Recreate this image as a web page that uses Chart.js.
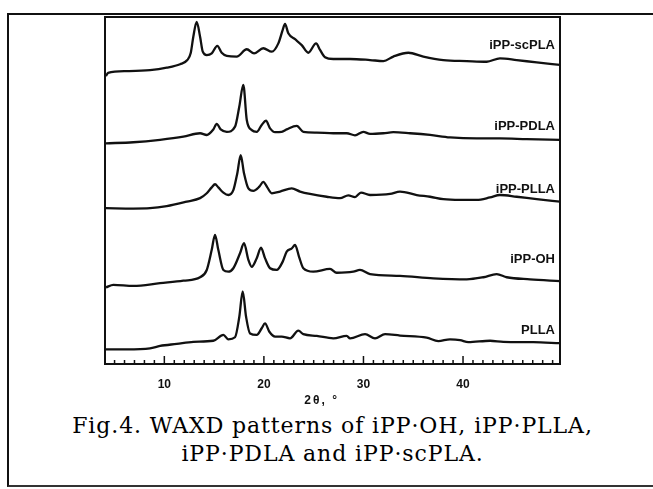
<!DOCTYPE html>
<html>
<head>
<meta charset="utf-8">
<title>WAXD patterns</title>
<script src="https://cdn.jsdelivr.net/npm/chart.js@4.4.0/dist/chart.umd.min.js"></script>
<style>
  html, body { margin: 0; padding: 0; background: #fff; overflow: hidden; }
  #frame { position: absolute; left: 7px; top: 13px; width: 700px; height: 470px;
           border-left: 2px solid #111; border-top: 2px solid #111; border-bottom: 2px solid #333; }
  #wrap { position: absolute; left: 0; top: 0; width: 653px; height: 410px; }
  #caption { position: absolute; left: 6px; top: 412px; width: 653px; text-align: center;
             font-family: "DejaVu Serif", serif; font-size: 22px; letter-spacing: 0.9px;
             line-height: 28px; color: #000; }
</style>
</head>
<body>
<div id="frame"></div>
<div id="wrap"><canvas id="waxdChart" width="653" height="410"></canvas></div>
<div id="caption">Fig.4. WAXD patterns of iPP·OH, iPP·PLLA,<br>iPP·PDLA and iPP·scPLA.</div>
<script>
// 2theta (deg) and stacked intensity (a.u.), top curve first
const scplaX = [4.14, 4.35, 6.22, 8.56, 10.24, 11.58, 12.31, 12.65, 12.91, 13.25, 13.59, 13.86, 14.26, 14.76, 15.32, 15.76, 16.27, 17.27, 18.28, 19.01, 19.94, 20.79, 21.45, 21.89, 22.12, 22.45, 23.13, 23.8, 24.46, 25.24, 25.64, 26.14, 26.97, 28.65, 30.66, 32.0, 33.0, 34.51, 36.01, 38.02, 40.37, 42.38, 43.71, 45.39, 47.4, 49.74];
const scplaY = [83.0, 83.9, 84.4, 84.7, 85.4, 86.4, 87.6, 89.6, 94.3, 98.6, 94.3, 90.0, 89.0, 89.5, 91.7, 89.7, 88.8, 88.6, 90.7, 89.5, 91.0, 90.0, 92.4, 96.3, 98.0, 95.3, 93.6, 91.9, 89.7, 92.4, 90.5, 88.4, 87.9, 87.9, 87.6, 87.3, 88.6, 89.7, 88.6, 87.6, 87.3, 87.1, 88.1, 87.6, 86.9, 86.2];

const pdlaX = [4.14, 6.89, 9.57, 11.91, 13.59, 14.26, 14.92, 15.26, 15.66, 16.27, 17.1, 17.53, 17.93, 18.28, 18.78, 19.28, 19.78, 20.21, 20.62, 21.12, 21.79, 22.29, 23.3, 23.96, 25.31, 26.97, 28.32, 29.15, 29.99, 30.66, 32.0, 33.0, 34.68, 36.69, 38.69, 41.37, 43.71, 46.4, 49.74];
const pdlaY = [63.6, 63.9, 64.6, 65.5, 66.5, 66.0, 67.6, 69.2, 67.6, 66.9, 68.4, 74.2, 80.4, 70.3, 67.4, 66.9, 68.9, 70.1, 67.9, 66.8, 66.9, 67.6, 68.6, 66.9, 66.7, 66.5, 66.5, 65.9, 66.9, 66.3, 66.5, 66.8, 66.5, 66.0, 65.3, 65.0, 65.0, 64.8, 64.6];

const pllaBlendX = [4.14, 6.89, 8.56, 10.24, 12.25, 13.59, 14.26, 14.76, 15.09, 15.42, 15.93, 16.43, 16.93, 17.33, 17.67, 18.0, 18.44, 18.94, 19.54, 19.94, 20.34, 20.79, 21.62, 22.8, 23.63, 24.63, 26.31, 27.65, 28.48, 29.15, 29.75, 30.66, 32.67, 33.67, 35.35, 36.69, 38.02, 39.7, 41.37, 42.71, 43.71, 45.39, 47.4, 49.74];
const pllaBlendY = [44.9, 44.8, 44.9, 45.5, 46.8, 47.8, 49.2, 50.9, 51.8, 50.9, 49.4, 48.7, 50.1, 55.0, 60.2, 55.0, 50.6, 49.9, 51.1, 52.5, 50.9, 49.2, 49.7, 50.6, 49.7, 49.0, 48.2, 47.8, 48.6, 48.1, 49.4, 48.7, 49.0, 49.7, 48.7, 48.2, 47.5, 47.3, 47.3, 48.0, 48.7, 48.2, 47.5, 46.8];

const ohX = [4.14, 4.88, 6.89, 9.57, 11.91, 13.59, 14.26, 14.76, 15.09, 15.42, 15.93, 16.43, 16.93, 17.6, 18.0, 18.44, 18.78, 19.28, 19.71, 20.11, 20.62, 21.29, 21.89, 22.29, 22.8, 23.13, 23.53, 23.96, 24.96, 26.64, 27.31, 28.98, 29.65, 30.66, 33.67, 37.02, 40.37, 42.04, 43.38, 44.39, 46.73, 49.74];
const ohY = [22.1, 22.8, 22.5, 23.3, 24.0, 25.0, 27.1, 32.9, 37.2, 32.9, 27.1, 26.6, 27.6, 31.9, 34.8, 30.0, 28.0, 30.5, 33.5, 30.5, 27.6, 27.1, 29.5, 32.4, 33.3, 34.3, 30.9, 27.6, 26.6, 27.4, 26.3, 26.6, 27.1, 25.9, 25.4, 24.7, 24.4, 25.0, 25.9, 25.0, 24.4, 23.9];

const pllaX = [4.14, 6.22, 8.56, 9.57, 11.25, 12.91, 14.92, 15.93, 16.43, 17.1, 17.53, 17.87, 18.21, 18.61, 19.28, 19.78, 20.11, 20.55, 21.12, 21.79, 22.62, 23.46, 23.96, 25.31, 26.97, 28.32, 28.65, 30.16, 31.16, 32.17, 33.67, 36.35, 37.52, 38.69, 39.7, 40.53, 42.71, 44.05, 47.06, 49.74];
const pllaY = [4.2, 4.2, 4.5, 5.2, 5.8, 6.4, 6.7, 8.4, 7.1, 7.7, 13.6, 20.9, 13.6, 8.8, 8.4, 10.3, 11.7, 9.3, 7.9, 7.9, 7.4, 9.6, 8.6, 8.1, 7.4, 8.1, 7.4, 8.6, 7.4, 8.6, 8.2, 7.6, 6.6, 7.1, 6.9, 6.3, 6.7, 6.4, 6.3, 6.0];

const sampleNames = ['iPP-scPLA', 'iPP-PDLA', 'iPP-PLLA', 'iPP-OH', 'PLLA'];
const nameLevels = [91.9, 68.4, 50.4, 30.0, 9.6];

const xMinorTicks = [5, 6, 7, 8, 9, 10, 11, 12, 13, 14, 15, 16, 17, 18, 19, 20, 21, 22, 23, 24, 25, 26, 27, 28, 29, 30, 31, 32, 33, 34, 35, 36, 37, 38, 39, 40, 41, 42, 43, 44, 45, 46, 47, 48, 49];
const xTickLabels = [10, 20, 30, 40];
const xAxisTitle = '2θ, °';
const xAxisTitleAt = 25.8;

const seriesX = [scplaX, pdlaX, pllaBlendX, ohX, pllaX];
const seriesY = [scplaY, pdlaY, pllaBlendY, ohY, pllaY];

function toPoints(xs, ys) {
    return xs.map((x, i) => ({ x: x, y: ys[i] }));
}

// Frame, inward tick marks, axis title and the sample names next to each pattern
const framePlugin = {
    id: 'frame',
    afterDatasetsDraw(chart) {
        const ctx = chart.ctx;
        const area = chart.chartArea;
        const xs = chart.scales.x;
        const ys = chart.scales.y;
        ctx.save();
        ctx.strokeStyle = '#111';
        ctx.lineWidth = 2;
        ctx.strokeRect(area.left, area.top, area.right - area.left, area.bottom - area.top);
        ctx.lineWidth = 1.5;
        xMinorTicks.forEach(v => {
            const px = xs.getPixelForValue(v);
            const len = xTickLabels.includes(v) ? 8 : 4;
            ctx.beginPath();
            ctx.moveTo(px, area.bottom);
            ctx.lineTo(px, area.bottom - len);
            ctx.stroke();
        });
        ctx.fillStyle = '#111';
        ctx.font = 'bold 13px "Liberation Sans", Arial, sans-serif';
        ctx.textAlign = 'right';
        ctx.textBaseline = 'middle';
        sampleNames.forEach((name, i) => {
            ctx.fillText(name, area.right - 5, ys.getPixelForValue(nameLevels[i]));
        });
        ctx.textAlign = 'center';
        ctx.font = 'bold 12px "Liberation Sans", Arial, sans-serif';
        ctx.letterSpacing = '2px';
        ctx.fillText(xAxisTitle, xs.getPixelForValue(xAxisTitleAt), xs.bottom - 9);
        ctx.restore();
    }
};

function renderChart() {
    const ctx = document.getElementById('waxdChart').getContext('2d');
    new Chart(ctx, {
        type: 'line',
        data: {
            datasets: sampleNames.map((name, i) => ({
                label: name,
                data: toPoints(seriesX[i], seriesY[i]),
                borderColor: '#111',
                borderWidth: 2.3,
                pointRadius: 0,
                fill: false,
                cubicInterpolationMode: 'monotone'
            }))
        },
        options: {
            responsive: false,
            animation: false,
            layout: { padding: { left: 105, right: 93, top: 17, bottom: 0 } },
            plugins: {
                legend: { display: false },
                tooltip: { enabled: false }
            },
            scales: {
                x: {
                    type: 'linear',
                    min: 4.04,
                    max: 49.74,
                    afterBuildTicks: scale => { scale.ticks = xMinorTicks.map(v => ({ value: v })); },
                    afterFit: scale => { scale.height = 46; },
                    grid: { display: true, drawOnChartArea: false, drawTicks: false },
                    border: { display: false },
                    ticks: {
                        autoSkip: false,
                        maxRotation: 0,
                        padding: 13,
                        color: '#111',
                        font: { family: '"Liberation Sans", Arial, sans-serif', weight: 'bold', size: 12 },
                        callback: v => xTickLabels.includes(v) ? String(v) : ''
                    }
                },
                y: { display: false, min: 0, max: 100 }
            }
        },
        plugins: [framePlugin]
    });
}

document.addEventListener('DOMContentLoaded', renderChart);
</script>
</body>
</html>
